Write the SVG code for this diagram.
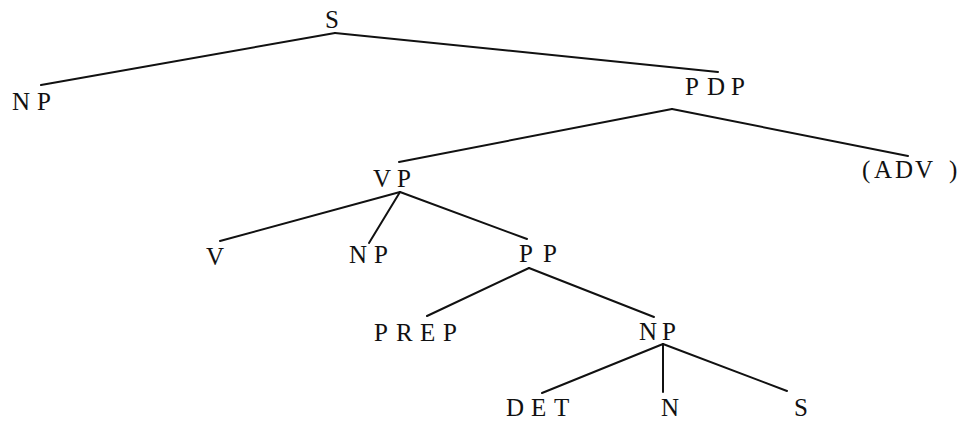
<svg xmlns="http://www.w3.org/2000/svg" width="962" height="423" viewBox="0 0 962 423">
<style>
.lbl{font-family:"Liberation Serif","Times New Roman",serif;font-size:25px;fill:#111}
.edge{stroke:#111;stroke-width:2;fill:none;stroke-linecap:round}
</style>
<rect width="962" height="423" fill="#fff"/>
<g id="connectors">
<line class="edge" x1="335" y1="33" x2="41" y2="85"/>
<line class="edge" x1="335" y1="33" x2="718" y2="72"/>
<line class="edge" x1="672" y1="109" x2="399" y2="162"/>
<line class="edge" x1="672" y1="109" x2="908" y2="156"/>
<line class="edge" x1="400" y1="192" x2="220" y2="241"/>
<line class="edge" x1="400" y1="192" x2="369" y2="243"/>
<line class="edge" x1="400" y1="192" x2="527" y2="239"/>
<line class="edge" x1="529" y1="268" x2="427" y2="316"/>
<line class="edge" x1="529" y1="268" x2="654" y2="317"/>
<line class="edge" x1="663" y1="344" x2="542" y2="393"/>
<line class="edge" x1="663" y1="344" x2="663" y2="392"/>
<line class="edge" x1="663" y1="344" x2="787" y2="391"/>
</g>
<g id="n-S"><text class="lbl" x="325" y="28">S</text></g>
<g id="n-NP1"><text class="lbl" x="12 37" y="110">NP</text></g>
<g id="n-PDP"><text class="lbl" x="685 707 731" y="95">PDP</text></g>
<g id="n-VP"><text class="lbl" x="373 397" y="187">VP</text></g>
<g id="n-ADV"><text class="lbl" x="862 874 895 915 949" y="178">(ADV)</text></g>
<g id="n-V"><text class="lbl" x="206" y="265">V</text></g>
<g id="n-NP2"><text class="lbl" x="349 374" y="263">NP</text></g>
<g id="n-PP"><text class="lbl" x="519 543" y="262">PP</text></g>
<g id="n-PREP"><text class="lbl" x="374 396 420 443" y="341">PREP</text></g>
<g id="n-NP3"><text class="lbl" x="639 662" y="340">NP</text></g>
<g id="n-DET"><text class="lbl" x="506 531 554" y="416">DET</text></g>
<g id="n-N"><text class="lbl" x="661" y="416">N</text></g>
<g id="n-S2"><text class="lbl" x="794" y="416">S</text></g>
</svg>
